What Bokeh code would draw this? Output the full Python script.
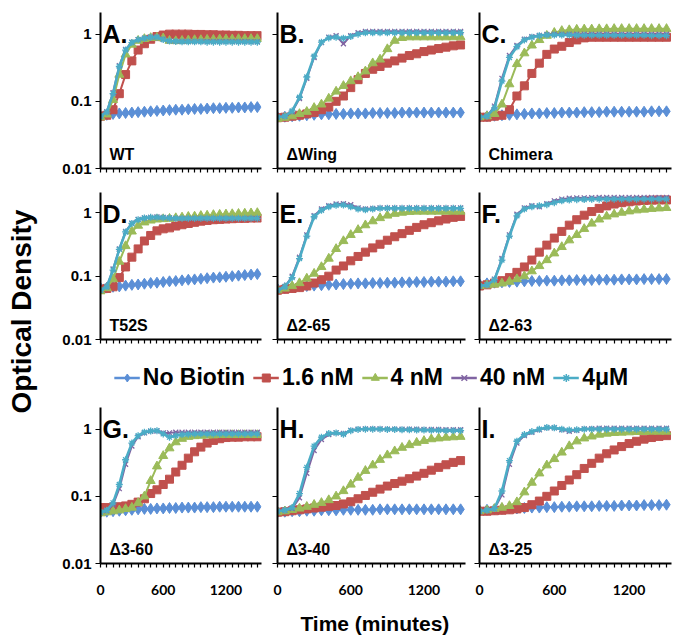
import math
from bokeh.plotting import figure
from bokeh.layouts import row, column
from bokeh.models import Range1d, FixedTicker, CustomJSTickFormatter, Legend, LegendItem
from bokeh.core.properties import value
from bokeh.embed import file_html
from bokeh.resources import INLINE

# ---------------- data ----------------
times = [0, 60, 120, 180, 240, 300, 360, 420, 480, 540, 600, 660, 720,
         780, 840, 900, 960, 1020, 1080, 1140, 1200, 1260, 1320, 1380, 1440, 1500]
x_ticks = times
x_tick_labels = ["0", "", "", "", "", "", "", "", "", "", "600", "", "", "", "", "", "", "", "", "",
                 "1200", "", "", "", "", ""]
x_blank_labels = [""] * len(x_ticks)
y_ticks = [0.01, 0.1, 1]
y_tick_labels = ["0.01", "0.1", "1"]
y_blank_labels = ["", "", ""]

series_names = ["No Biotin", "1.6 nM", "4 nM", "40 nM", "4\u03bcM"]
panel_letters = ["A.", "B.", "C.", "D.", "E.", "F.", "G.", "H.", "I."]
strain_names = ["WT", "\u0394Wing", "Chimera", "T52S", "\u03942-65", "\u03942-63",
                "\u03943-60", "\u03943-40", "\u03943-25"]

# A. WT
wt_nb = [0.060,0.063,0.065,0.066,0.067,0.068,0.069,0.070,0.071,0.072,0.073,0.074,0.075,0.075,0.076,0.077,0.077,0.078,0.079,0.079,0.080,0.080,0.081,0.081,0.082,0.082]
wt_1p6 = [0.060,0.062,0.075,0.130,0.250,0.400,0.580,0.720,0.840,0.920,0.970,1.000,1.000,1.000,1.000,0.990,0.990,0.980,0.980,0.970,0.970,0.960,0.960,0.950,0.950,0.950]
wt_4n = [0.058,0.064,0.105,0.250,0.500,0.700,0.800,0.850,0.880,0.890,0.870,0.800,0.790,0.800,0.810,0.820,0.820,0.830,0.830,0.840,0.840,0.840,0.850,0.850,0.850,0.850]
wt_40n = [0.060,0.070,0.135,0.340,0.590,0.760,0.830,0.870,0.900,0.910,0.840,0.790,0.780,0.780,0.780,0.780,0.780,0.780,0.780,0.780,0.780,0.780,0.780,0.780,0.770,0.770]
wt_4u = [0.060,0.069,0.130,0.330,0.580,0.750,0.830,0.870,0.900,0.900,0.830,0.790,0.780,0.770,0.770,0.770,0.770,0.760,0.760,0.760,0.760,0.760,0.760,0.760,0.760,0.760]

# B. dWing
dwing_nb = [0.058,0.059,0.060,0.061,0.062,0.063,0.064,0.064,0.065,0.065,0.066,0.066,0.066,0.067,0.067,0.067,0.067,0.068,0.068,0.068,0.068,0.068,0.068,0.068,0.068,0.068]
dwing_1p6 = [0.057,0.058,0.060,0.062,0.065,0.068,0.075,0.082,0.100,0.120,0.160,0.210,0.260,0.300,0.330,0.370,0.400,0.440,0.480,0.510,0.550,0.580,0.610,0.640,0.670,0.690]
dwing_4n = [0.055,0.057,0.060,0.065,0.070,0.080,0.090,0.110,0.140,0.170,0.200,0.230,0.280,0.370,0.420,0.600,0.800,0.880,0.900,0.900,0.900,0.900,0.900,0.900,0.900,0.900]
dwing_40n = [0.058,0.060,0.070,0.110,0.220,0.450,0.750,0.900,0.950,0.720,0.950,1.050,1.100,1.100,1.100,1.100,1.100,1.100,1.100,1.100,1.100,1.100,1.100,1.100,1.100,1.100]
dwing_4u = [0.058,0.060,0.072,0.115,0.230,0.470,0.760,0.880,0.900,0.870,0.920,1.000,1.050,1.050,1.050,1.050,1.050,1.050,1.050,1.050,1.050,1.050,1.050,1.050,1.050,1.050]

# C. Chimera
chim_nb = [0.058,0.060,0.061,0.062,0.063,0.064,0.065,0.066,0.066,0.067,0.067,0.068,0.068,0.068,0.069,0.069,0.069,0.070,0.070,0.070,0.070,0.070,0.070,0.071,0.071,0.071]
chim_1p6 = [0.058,0.058,0.060,0.062,0.075,0.120,0.170,0.260,0.370,0.500,0.600,0.660,0.750,0.820,0.880,0.900,0.900,0.900,0.900,0.900,0.900,0.900,0.900,0.900,0.900,0.900]
chim_4n = [0.058,0.060,0.065,0.090,0.180,0.360,0.520,0.680,0.820,0.950,1.050,1.120,1.150,1.170,1.180,1.180,1.190,1.190,1.200,1.200,1.200,1.200,1.200,1.200,1.200,1.200]
chim_40n = [0.058,0.060,0.085,0.220,0.480,0.680,0.840,0.920,0.960,0.990,1.000,1.000,1.000,1.000,1.000,1.000,1.000,1.000,1.000,1.000,1.000,1.000,1.000,1.000,1.000,1.000]
chim_4u = [0.058,0.060,0.080,0.200,0.450,0.650,0.820,0.900,0.950,0.970,0.970,0.970,0.970,0.960,0.960,0.960,0.960,0.960,0.960,0.960,0.960,0.960,0.960,0.950,0.950,0.950]

# D. T52S
t52s_nb = [0.065,0.066,0.068,0.069,0.071,0.073,0.074,0.076,0.078,0.079,0.081,0.083,0.084,0.086,0.088,0.089,0.091,0.093,0.095,0.096,0.098,0.100,0.102,0.104,0.106,0.108]
t52s_1p6 = [0.062,0.064,0.068,0.095,0.140,0.200,0.270,0.360,0.440,0.520,0.560,0.580,0.620,0.650,0.680,0.710,0.740,0.760,0.780,0.790,0.800,0.810,0.820,0.820,0.830,0.830]
t52s_4n = [0.058,0.065,0.090,0.170,0.300,0.510,0.630,0.710,0.760,0.790,0.800,0.810,0.830,0.850,0.870,0.880,0.900,0.910,0.930,0.940,0.950,0.960,0.970,0.980,0.990,1.000]
t52s_40n = [0.060,0.068,0.130,0.270,0.510,0.690,0.790,0.830,0.850,0.860,0.850,0.830,0.820,0.820,0.820,0.820,0.820,0.820,0.820,0.820,0.820,0.820,0.820,0.820,0.820,0.820]
t52s_4u = [0.060,0.068,0.125,0.265,0.500,0.680,0.780,0.830,0.850,0.850,0.840,0.830,0.820,0.820,0.820,0.820,0.820,0.820,0.820,0.820,0.820,0.820,0.820,0.820,0.820,0.820]

# E. d2-65
d265_nb = [0.063,0.065,0.067,0.069,0.070,0.071,0.072,0.073,0.074,0.075,0.076,0.077,0.077,0.078,0.078,0.079,0.079,0.080,0.080,0.081,0.081,0.082,0.082,0.082,0.083,0.083]
d265_1p6 = [0.060,0.062,0.064,0.066,0.070,0.078,0.088,0.100,0.125,0.145,0.175,0.205,0.240,0.280,0.320,0.370,0.420,0.470,0.530,0.590,0.650,0.700,0.750,0.800,0.850,0.880]
d265_4n = [0.060,0.064,0.070,0.078,0.092,0.110,0.140,0.190,0.270,0.360,0.450,0.540,0.640,0.740,0.830,0.910,0.970,1.010,1.040,1.050,1.050,1.050,1.050,1.050,1.050,1.050]
d265_40n = [0.060,0.068,0.100,0.200,0.450,0.900,1.150,1.300,1.380,1.400,1.350,1.200,1.150,1.180,1.200,1.200,1.200,1.200,1.200,1.200,1.200,1.200,1.200,1.200,1.200,1.200]
d265_4u = [0.060,0.068,0.095,0.190,0.430,0.870,1.100,1.250,1.320,1.330,1.250,1.150,1.120,1.150,1.180,1.180,1.180,1.180,1.180,1.180,1.180,1.180,1.180,1.180,1.180,1.180]

# F. d2-63
d263_nb = [0.075,0.077,0.079,0.080,0.081,0.082,0.083,0.084,0.084,0.085,0.085,0.086,0.086,0.087,0.087,0.087,0.088,0.088,0.088,0.089,0.089,0.089,0.090,0.090,0.090,0.090]
d263_1p6 = [0.070,0.073,0.078,0.085,0.095,0.115,0.140,0.180,0.240,0.310,0.400,0.510,0.640,0.780,0.920,1.050,1.180,1.290,1.380,1.450,1.500,1.540,1.570,1.590,1.600,1.600]
d263_4n = [0.070,0.072,0.074,0.077,0.082,0.090,0.100,0.120,0.145,0.180,0.230,0.290,0.370,0.450,0.560,0.680,0.790,0.880,0.950,1.010,1.060,1.100,1.130,1.160,1.180,1.200]
d263_40n = [0.070,0.073,0.090,0.190,0.450,0.950,1.200,1.300,1.250,1.400,1.550,1.650,1.700,1.720,1.730,1.740,1.750,1.750,1.750,1.750,1.750,1.750,1.750,1.750,1.750,1.750]
d263_4u = [0.070,0.073,0.088,0.180,0.430,0.900,1.150,1.250,1.300,1.350,1.450,1.550,1.600,1.620,1.630,1.640,1.650,1.650,1.650,1.650,1.650,1.650,1.650,1.650,1.650,1.650]

# G. d3-60
d360_nb = [0.058,0.059,0.060,0.061,0.062,0.063,0.064,0.065,0.065,0.066,0.066,0.067,0.067,0.068,0.068,0.068,0.069,0.069,0.069,0.070,0.070,0.070,0.070,0.070,0.070,0.070]
d360_1p6 = [0.068,0.068,0.069,0.070,0.072,0.076,0.082,0.092,0.110,0.125,0.150,0.180,0.230,0.290,0.370,0.460,0.540,0.620,0.680,0.720,0.750,0.760,0.760,0.770,0.770,0.770]
d360_4n = [0.056,0.058,0.060,0.062,0.065,0.068,0.080,0.100,0.170,0.280,0.400,0.520,0.640,0.720,0.770,0.790,0.800,0.810,0.810,0.820,0.820,0.820,0.820,0.820,0.820,0.820]
d360_40n = [0.058,0.061,0.075,0.130,0.300,0.560,0.770,0.880,0.930,0.940,0.880,0.880,0.900,0.900,0.900,0.900,0.900,0.900,0.900,0.900,0.900,0.900,0.900,0.900,0.900,0.900]
d360_4u = [0.058,0.062,0.080,0.150,0.350,0.620,0.800,0.900,0.940,0.950,0.850,0.760,0.800,0.830,0.840,0.850,0.850,0.850,0.850,0.850,0.850,0.850,0.850,0.850,0.850,0.850]

# H. d3-40
d340_nb = [0.058,0.059,0.060,0.060,0.061,0.061,0.062,0.062,0.062,0.063,0.063,0.063,0.063,0.063,0.064,0.064,0.064,0.064,0.064,0.064,0.064,0.064,0.064,0.064,0.064,0.064]
d340_1p6 = [0.058,0.059,0.061,0.063,0.065,0.067,0.069,0.071,0.073,0.077,0.083,0.092,0.103,0.115,0.128,0.142,0.155,0.168,0.183,0.200,0.220,0.245,0.270,0.295,0.320,0.340]
d340_4n = [0.058,0.060,0.063,0.066,0.070,0.075,0.080,0.088,0.100,0.120,0.150,0.190,0.240,0.290,0.350,0.410,0.470,0.530,0.580,0.630,0.670,0.710,0.730,0.750,0.760,0.770]
d340_40n = [0.060,0.062,0.066,0.095,0.220,0.480,0.700,0.830,0.880,0.860,0.960,1.000,1.010,1.010,1.010,1.000,1.000,1.000,1.000,1.000,0.990,0.990,0.990,0.980,0.980,0.980]
d340_4u = [0.060,0.062,0.068,0.110,0.270,0.560,0.760,0.860,0.880,0.840,0.950,0.990,1.000,1.000,1.000,0.990,0.990,0.980,0.980,0.970,0.970,0.960,0.960,0.950,0.950,0.950]

# I. d3-25
d325_nb = [0.062,0.063,0.064,0.065,0.066,0.066,0.067,0.068,0.068,0.069,0.069,0.070,0.070,0.071,0.071,0.071,0.072,0.072,0.072,0.073,0.073,0.073,0.074,0.074,0.074,0.075]
d325_1p6 = [0.060,0.060,0.061,0.062,0.063,0.065,0.068,0.075,0.085,0.100,0.120,0.145,0.175,0.210,0.260,0.310,0.370,0.430,0.490,0.550,0.610,0.660,0.710,0.750,0.780,0.800]
d325_4n = [0.060,0.062,0.065,0.068,0.072,0.082,0.115,0.160,0.220,0.290,0.360,0.450,0.560,0.660,0.730,0.780,0.830,0.860,0.880,0.890,0.900,0.910,0.910,0.920,0.920,0.920]
d325_40n = [0.060,0.062,0.065,0.105,0.300,0.620,0.800,0.900,0.980,1.050,1.050,0.980,0.930,0.960,1.010,1.020,1.030,1.030,1.030,1.030,1.030,1.030,1.030,1.030,1.030,1.030]
d325_4u = [0.060,0.062,0.066,0.120,0.340,0.660,0.830,0.920,1.000,1.060,1.050,1.000,0.970,0.980,1.000,1.000,1.000,1.000,1.000,1.000,1.000,1.000,1.000,1.000,1.000,1.000]

panel_data = [
    [wt_nb, wt_1p6, wt_4n, wt_40n, wt_4u],
    [dwing_nb, dwing_1p6, dwing_4n, dwing_40n, dwing_4u],
    [chim_nb, chim_1p6, chim_4n, chim_40n, chim_4u],
    [t52s_nb, t52s_1p6, t52s_4n, t52s_40n, t52s_4u],
    [d265_nb, d265_1p6, d265_4n, d265_40n, d265_4u],
    [d263_nb, d263_1p6, d263_4n, d263_40n, d263_4u],
    [d360_nb, d360_1p6, d360_4n, d360_40n, d360_4u],
    [d340_nb, d340_1p6, d340_4n, d340_40n, d340_4u],
    [d325_nb, d325_1p6, d325_4n, d325_40n, d325_4u],
]

# ---------------- style ----------------
colors = ["#5B8FD6", "#C0504D", "#9BBB59", "#8064A2", "#4BACC6"]
markers = ["diamond", "square", "triangle", "x", "asterisk"]
msizes = [11, 8, 9, 7, 7]
lwidths = [2, 2, 2, 2, 2.6]

FONT = "Liberation Sans"
ylab_w = 48
col_w = [219, 204, 202]
col_bl = [52, 10, 8]
col_br = [6, 6, 2]
row_h = [182, 167, 208]
row_bt = [12, 10, 10]
row_bb = [14, 10, 42]
leg_h = 48
xl_h = 30

fmt_code = """
for (let i = 0; i < tv.length; i++) {
  if (Math.abs(tv[i] - tick) <= 1e-9 * Math.max(1, Math.abs(tv[i]))) { return tl[i]; }
}
return "";
"""


def make_panel(k):
    r, c = divmod(k, 3)
    p = figure(width=col_w[c], height=row_h[r], x_range=Range1d(0, 1540),
               y_range=Range1d(0.01, 2.1), y_axis_type="log",
               output_backend="svg", toolbar_location=None,
               min_border_left=col_bl[c], min_border_right=col_br[c],
               min_border_top=row_bt[r], min_border_bottom=row_bb[r])
    p.outline_line_color = None
    p.grid.visible = False
    p.background_fill_color = "white"
    p.border_fill_color = "white"

    xa = p.xaxis[0]
    xa.ticker = FixedTicker(ticks=x_ticks, minor_ticks=[])
    xa.axis_line_color = "black"
    xa.axis_line_width = 2
    xa.major_tick_line_color = "black"
    xa.major_tick_line_width = 1.2
    xa.major_tick_in = 0
    xa.major_tick_out = 4
    xa.minor_tick_line_color = None
    if r == 2:
        xa.formatter = CustomJSTickFormatter(args=dict(tv=x_ticks, tl=x_tick_labels), code=fmt_code)
        xa.major_label_text_font = "Lato"
        xa.major_label_text_font_style = "bold"
        xa.major_label_text_font_size = "14px"
        xa.major_label_text_color = "black"
        xa.major_label_standoff = 17
    else:
        xa.formatter = CustomJSTickFormatter(args=dict(tv=x_ticks, tl=x_blank_labels), code=fmt_code)
        xa.major_label_text_font_size = "0px"
        xa.major_label_standoff = 0

    ya = p.yaxis[0]
    ya.ticker = FixedTicker(ticks=y_ticks, minor_ticks=[])
    ya.axis_line_color = "black"
    ya.axis_line_width = 2
    ya.major_tick_line_color = "black"
    ya.major_tick_line_width = 1.2
    ya.major_tick_in = 0
    ya.major_tick_out = 5
    ya.minor_tick_line_color = None
    if c == 0:
        ya.formatter = CustomJSTickFormatter(args=dict(tv=y_ticks, tl=y_tick_labels), code=fmt_code)
        ya.major_label_text_font = FONT
        ya.major_label_text_font_style = "bold"
        ya.major_label_text_font_size = "15px"
        ya.major_label_text_color = "black"
        ya.major_label_standoff = 4
    else:
        ya.formatter = CustomJSTickFormatter(args=dict(tv=y_ticks, tl=y_blank_labels), code=fmt_code)
        ya.major_label_text_font_size = "0px"
        ya.major_label_standoff = 0

    for s, col, m, sz, lw in zip(panel_data[k], colors, markers, msizes, lwidths):
        p.line(times, s, line_color=col, line_width=lw)
        if m in ("x", "asterisk"):
            p.scatter(times, s, marker=m, size=sz, line_color=col, line_width=1.3)
        else:
            p.scatter(times, s, marker=m, size=sz, fill_color=col, line_color=col)

    p.text(x=[0], y=[2.1], text=[panel_letters[k]], text_font=value(FONT),
           text_font_style="bold", text_font_size="25px", text_color="black",
           text_baseline="top", text_align="left", x_offset=2, y_offset=7)
    p.text(x=[0], y=[0.01], text=[strain_names[k]], text_font=value(FONT),
           text_font_style="bold", text_font_size="16px", text_color="black",
           text_baseline="bottom", text_align="left", x_offset=9, y_offset=-6)
    return p


panels = [make_panel(k) for k in range(9)]

inner_w = sum(col_w)
# legend strip
lf = figure(width=inner_w, height=leg_h, x_range=Range1d(0, 1), y_range=Range1d(0, 1),
            output_backend="svg", toolbar_location=None,
            x_axis_location=None, y_axis_location=None,
            min_border=0, min_border_left=21, min_border_top=8)
lf.outline_line_color = None
lf.grid.visible = False
items = []
for name, col, m, sz in zip(series_names, colors, markers, msizes):
    lr = lf.line(x=[-5, -4], y=[-5, -5], line_color=col, line_width=2.5)
    if m in ("x", "asterisk"):
        sr = lf.scatter(x=[-5], y=[-5], marker=m, size=sz + 1, line_color=col, line_width=1.5)
    else:
        sr = lf.scatter(x=[-5], y=[-5], marker=m, size=sz + 1, fill_color=col, line_color=col)
    items.append(LegendItem(label=name, renderers=[lr, sr]))
leg = Legend(items=items, orientation="horizontal", location="center",
             label_text_font=FONT, label_text_font_style="bold",
             label_text_font_size="23px", label_text_color="black",
             glyph_width=26, glyph_height=20, label_standoff=3, spacing=8,
             padding=0, margin=0, border_line_color=None, background_fill_alpha=0)
lf.add_layout(leg, "center")

# x label strip
xf = figure(width=inner_w, height=xl_h, x_range=Range1d(0, inner_w), y_range=Range1d(0, xl_h),
            output_backend="svg", toolbar_location=None,
            x_axis_location=None, y_axis_location=None, min_border=0)
xf.outline_line_color = None
xf.grid.visible = False
xf.text(x=[316], y=[12], text=["Time (minutes)"], text_font=value(FONT),
        text_font_style="bold", text_font_size="21px", text_color="black",
        text_align="center", text_baseline="middle")

total_h = sum(row_h) + leg_h + xl_h
# y label strip
yf = figure(width=ylab_w, height=total_h, x_range=Range1d(0, ylab_w), y_range=Range1d(0, total_h),
            output_backend="svg", toolbar_location=None,
            x_axis_location=None, y_axis_location=None, min_border=0)
yf.outline_line_color = None
yf.grid.visible = False
yf.text(x=[21], y=[total_h - 311], text=["Optical Density"], text_font=value(FONT),
        text_font_style="bold", text_font_size="28px", text_color="black",
        text_align="center", text_baseline="middle", angle=math.pi / 2)

layout = row(yf, column(row(*panels[0:3]), row(*panels[3:6]), lf, row(*panels[6:9]), xf))

open("out.html", "w").write(file_html(layout, INLINE))
